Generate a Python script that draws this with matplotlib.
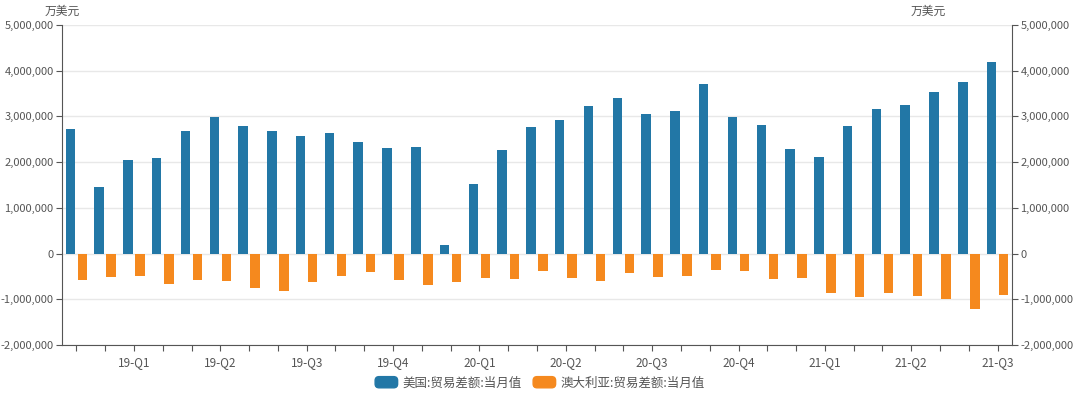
import numpy as np
import matplotlib.pyplot as plt
from matplotlib.ticker import FuncFormatter
from matplotlib.patches import FancyBboxPatch, Rectangle
from matplotlib.legend_handler import HandlerPatch

plt.rcParams['font.family'] = ['Noto Sans CJK SC', 'DejaVu Sans']

# monthly data, 2019-01 .. 2021-09 (万美元)
months = ['19-01', '19-02', '19-03', '19-04', '19-05', '19-06', '19-07', '19-08', '19-09',
          '19-10', '19-11', '19-12', '20-01', '20-02', '20-03', '20-04', '20-05', '20-06',
          '20-07', '20-08', '20-09', '20-10', '20-11', '20-12', '21-01', '21-02', '21-03',
          '21-04', '21-05', '21-06', '21-07', '21-08', '21-09']
quarter_labels = ['19-Q1', '19-Q2', '19-Q3', '19-Q4', '20-Q1', '20-Q2',
                  '20-Q3', '20-Q4', '21-Q1', '21-Q2', '21-Q3']
us_balance = [2715000, 1460000, 2040000, 2090000, 2680000, 2980000, 2780000, 2690000, 2580000,
              2630000, 2450000, 2320000, 2340000, 190000, 1530000, 2270000, 2770000, 2930000,
              3230000, 3410000, 3060000, 3120000, 3720000, 2980000, 2810000, 2290000, 2120000,
              2800000, 3160000, 3240000, 3530000, 3750000, 4180000]
au_balance = [-570000, -510000, -500000, -660000, -580000, -600000, -750000, -820000, -630000,
              -500000, -400000, -580000, -690000, -620000, -530000, -550000, -380000, -530000,
              -600000, -420000, -510000, -480000, -370000, -380000, -550000, -530000, -860000,
              -960000, -860000, -920000, -1000000, -1220000, -910000]

blue = '#2277a6'
orange = '#f5891e'
axis_col = '#555555'
text_col = '#555555'


def rounded_patch(legend, orig_handle, xdescent, ydescent, width, height, fontsize):
    return FancyBboxPatch((-xdescent, -ydescent), width, height,
                          boxstyle='round,pad=0,rounding_size=%f' % (height * 0.35))


fig = plt.figure(figsize=(10.8, 3.93), dpi=100)
ax = fig.add_axes([62 / 1080, 48 / 393, 950 / 1080, 320 / 393])

x = np.arange(len(months))
w = 0.33
ax.bar(x - 0.21, us_balance, w, color=blue, zorder=3)
ax.bar(x + 0.21, au_balance, w, color=orange, zorder=3)

ax.set_xlim(-0.5, len(months) - 0.5)
ax.set_ylim(-2000000, 5000000)
yt = np.arange(-2000000, 5000001, 1000000)
ax.set_yticks(yt)
fmt = FuncFormatter(lambda v, p: f'{int(v):,}')
ax.yaxis.set_major_formatter(fmt)
ax.grid(axis='y', color='#e8e8e8', linewidth=1, zorder=0)

ax.set_xticks(x)
ax.set_xticklabels([quarter_labels[i // 3] if i % 3 == 2 else '' for i in x])

for s in ['top', 'right']:
    ax.spines[s].set_visible(False)
for s in ['left', 'bottom']:
    ax.spines[s].set_color(axis_col)
ax.tick_params(axis='both', colors=axis_col, labelcolor=text_col, labelsize=8, length=4)
ax.tick_params(axis='y', pad=2)
ax.tick_params(axis='x', pad=4, labelsize=8.5)

ax2 = ax.twinx()
ax2.set_ylim(ax.get_ylim())
ax2.set_yticks(yt)
ax2.yaxis.set_major_formatter(fmt)
for s in ['top', 'left', 'bottom']:
    ax2.spines[s].set_visible(False)
ax2.spines['right'].set_color(axis_col)
ax2.tick_params(axis='y', colors=axis_col, labelcolor=text_col, labelsize=8, length=4, pad=2)

fig.text(62 / 1080, 1 - 11 / 393, '万美元', ha='center', va='center', fontsize=8.5, color=text_col)
fig.text(928 / 1080, 1 - 11 / 393, '万美元', ha='center', va='center', fontsize=8.5, color=text_col)

handles = [Rectangle((0, 0), 1, 1, color=blue), Rectangle((0, 0), 1, 1, color=orange)]
labels = ['美国:贸易差额:当月值', '澳大利亚:贸易差额:当月值']
fig.legend(handles, labels, loc='center', bbox_to_anchor=(0.5, 1 - 383 / 393), ncol=2,
           frameon=False, fontsize=9, handlelength=1.8, handleheight=1.0, columnspacing=0.9,
           handletextpad=0.4, labelcolor=text_col,
           handler_map={Rectangle: HandlerPatch(patch_func=rounded_patch)})

fig.savefig('out.png', dpi=100)
